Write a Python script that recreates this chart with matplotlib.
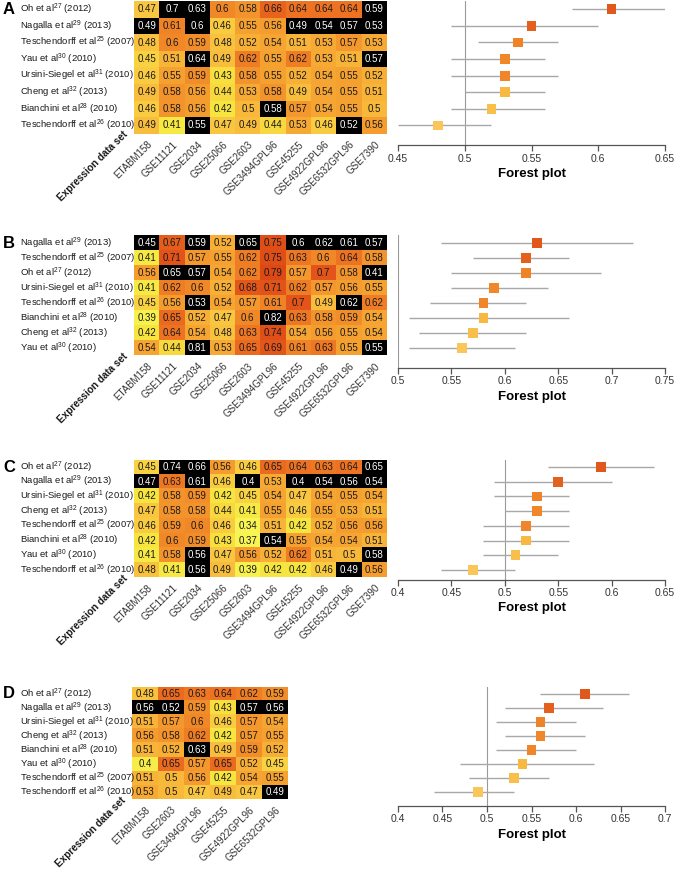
import numpy as np
import matplotlib
matplotlib.use("Agg")
import matplotlib.pyplot as plt
from matplotlib.colors import LinearSegmentedColormap, to_rgba

plt.rcParams['font.family'] = ['Liberation Sans', 'DejaVu Sans']
plt.rcParams['mathtext.fontset'] = 'custom'
plt.rcParams['mathtext.rm'] = 'Liberation Sans'

W, H = 674, 871

# studies (signatures) and their reference labels
study_labels = {
    'Oh': r'Oh et al$^{27}$ (2012)',
    'Nagalla': r'Nagalla et al$^{29}$ (2013)',
    'Tesch07': r'Teschendorff et al$^{25}$ (2007)',
    'Yau': r'Yau et al$^{30}$ (2010)',
    'Ursini': r'Ursini-Siegel et al$^{31}$ (2010)',
    'Cheng': r'Cheng et al$^{32}$ (2013)',
    'Bianchini': r'Bianchini et al$^{28}$ (2010)',
    'Tesch10': r'Teschendorff et al$^{26}$ (2010)',
}

datasets_full = ['ETABM158', 'GSE11121', 'GSE2034', 'GSE25066', 'GSE2603',
                 'GSE3494GPL96', 'GSE45255', 'GSE4922GPL96', 'GSE6532GPL96', 'GSE7390']
datasets_d = ['ETABM158', 'GSE2603', 'GSE3494GPL96', 'GSE45255', 'GSE4922GPL96', 'GSE6532GPL96']

# ---- panel A ----
rows_a = ['Oh', 'Nagalla', 'Tesch07', 'Yau', 'Ursini', 'Cheng', 'Bianchini', 'Tesch10']
vals_a = [
    [0.47, 0.7, 0.63, 0.6, 0.58, 0.66, 0.64, 0.64, 0.64, 0.59],
    [0.49, 0.61, 0.6, 0.46, 0.55, 0.56, 0.49, 0.54, 0.57, 0.53],
    [0.48, 0.6, 0.59, 0.48, 0.52, 0.54, 0.51, 0.53, 0.57, 0.53],
    [0.45, 0.51, 0.64, 0.49, 0.62, 0.55, 0.62, 0.53, 0.51, 0.57],
    [0.46, 0.55, 0.59, 0.43, 0.58, 0.55, 0.52, 0.54, 0.55, 0.52],
    [0.49, 0.58, 0.56, 0.44, 0.53, 0.58, 0.49, 0.54, 0.55, 0.51],
    [0.46, 0.58, 0.56, 0.42, 0.5, 0.58, 0.57, 0.54, 0.55, 0.5],
    [0.49, 0.41, 0.55, 0.47, 0.49, 0.44, 0.53, 0.46, 0.52, 0.56],
]
fp_mean_a = [0.61, 0.55, 0.54, 0.53, 0.53, 0.53, 0.52, 0.48]
fp_lo_a = [0.58, 0.49, 0.51, 0.49, 0.49, 0.50, 0.49, 0.45]
fp_hi_a = [0.65, 0.60, 0.57, 0.56, 0.57, 0.56, 0.56, 0.52]
train_a = [('Oh', 'GSE11121'), ('Oh', 'GSE2034'), ('Oh', 'GSE7390'),
           ('Nagalla', 'ETABM158'), ('Nagalla', 'GSE2034'), ('Nagalla', 'GSE45255'),
           ('Nagalla', 'GSE4922GPL96'), ('Nagalla', 'GSE6532GPL96'), ('Nagalla', 'GSE7390'),
           ('Yau', 'GSE2034'), ('Yau', 'GSE7390'), ('Bianchini', 'GSE3494GPL96'),
           ('Tesch10', 'GSE2034'), ('Tesch10', 'GSE6532GPL96')]

# ---- panel B ----
rows_b = ['Nagalla', 'Tesch07', 'Oh', 'Ursini', 'Tesch10', 'Bianchini', 'Cheng', 'Yau']
vals_b = [
    [0.45, 0.67, 0.59, 0.52, 0.65, 0.75, 0.6, 0.62, 0.61, 0.57],
    [0.41, 0.71, 0.57, 0.55, 0.62, 0.75, 0.63, 0.6, 0.64, 0.58],
    [0.56, 0.65, 0.57, 0.54, 0.62, 0.79, 0.57, 0.7, 0.58, 0.41],
    [0.41, 0.62, 0.6, 0.52, 0.68, 0.71, 0.62, 0.57, 0.56, 0.55],
    [0.45, 0.56, 0.53, 0.54, 0.57, 0.61, 0.7, 0.49, 0.62, 0.62],
    [0.39, 0.65, 0.52, 0.47, 0.6, 0.82, 0.63, 0.58, 0.59, 0.54],
    [0.42, 0.64, 0.54, 0.48, 0.63, 0.74, 0.54, 0.56, 0.55, 0.54],
    [0.54, 0.44, 0.81, 0.53, 0.65, 0.69, 0.61, 0.63, 0.55, 0.55],
]
fp_mean_b = [0.63, 0.62, 0.62, 0.59, 0.58, 0.58, 0.57, 0.56]
fp_lo_b = [0.54, 0.57, 0.55, 0.55, 0.53, 0.51, 0.52, 0.51]
fp_hi_b = [0.72, 0.66, 0.69, 0.64, 0.62, 0.66, 0.62, 0.61]
train_b = [('Nagalla', 'ETABM158'), ('Nagalla', 'GSE2034'), ('Nagalla', 'GSE2603'),
           ('Nagalla', 'GSE45255'), ('Nagalla', 'GSE4922GPL96'), ('Nagalla', 'GSE6532GPL96'),
           ('Nagalla', 'GSE7390'), ('Oh', 'GSE11121'), ('Oh', 'GSE2034'), ('Oh', 'GSE7390'),
           ('Tesch10', 'GSE2034'), ('Tesch10', 'GSE6532GPL96'), ('Bianchini', 'GSE3494GPL96'),
           ('Yau', 'GSE2034'), ('Yau', 'GSE7390')]

# ---- panel C ----
rows_c = ['Oh', 'Nagalla', 'Ursini', 'Cheng', 'Tesch07', 'Bianchini', 'Yau', 'Tesch10']
vals_c = [
    [0.45, 0.74, 0.66, 0.56, 0.46, 0.65, 0.64, 0.63, 0.64, 0.65],
    [0.47, 0.63, 0.61, 0.46, 0.4, 0.53, 0.4, 0.54, 0.56, 0.54],
    [0.42, 0.58, 0.59, 0.42, 0.45, 0.54, 0.47, 0.54, 0.55, 0.54],
    [0.47, 0.58, 0.58, 0.44, 0.41, 0.55, 0.46, 0.55, 0.53, 0.51],
    [0.46, 0.59, 0.6, 0.46, 0.34, 0.51, 0.42, 0.52, 0.56, 0.56],
    [0.42, 0.6, 0.59, 0.43, 0.37, 0.54, 0.55, 0.54, 0.54, 0.51],
    [0.41, 0.58, 0.56, 0.47, 0.56, 0.52, 0.62, 0.51, 0.5, 0.58],
    [0.48, 0.41, 0.56, 0.49, 0.39, 0.42, 0.42, 0.46, 0.49, 0.56],
]
fp_mean_c = [0.59, 0.55, 0.53, 0.53, 0.52, 0.52, 0.51, 0.47]
fp_lo_c = [0.54, 0.49, 0.49, 0.50, 0.48, 0.48, 0.48, 0.44]
fp_hi_c = [0.64, 0.60, 0.56, 0.56, 0.56, 0.56, 0.55, 0.51]
train_c = [('Oh', 'GSE11121'), ('Oh', 'GSE2034'), ('Oh', 'GSE7390'),
           ('Nagalla', 'ETABM158'), ('Nagalla', 'GSE2034'), ('Nagalla', 'GSE2603'),
           ('Nagalla', 'GSE45255'), ('Nagalla', 'GSE4922GPL96'), ('Nagalla', 'GSE6532GPL96'),
           ('Nagalla', 'GSE7390'), ('Bianchini', 'GSE3494GPL96'), ('Yau', 'GSE2034'),
           ('Yau', 'GSE7390'), ('Tesch10', 'GSE2034'), ('Tesch10', 'GSE6532GPL96')]

# ---- panel D ----
rows_d = ['Oh', 'Nagalla', 'Ursini', 'Cheng', 'Bianchini', 'Yau', 'Tesch07', 'Tesch10']
vals_d = [
    [0.48, 0.65, 0.63, 0.64, 0.62, 0.59],
    [0.56, 0.52, 0.59, 0.43, 0.57, 0.56],
    [0.51, 0.57, 0.6, 0.46, 0.57, 0.54],
    [0.56, 0.58, 0.62, 0.42, 0.57, 0.55],
    [0.51, 0.52, 0.63, 0.49, 0.59, 0.52],
    [0.4, 0.65, 0.57, 0.65, 0.52, 0.45],
    [0.51, 0.5, 0.56, 0.42, 0.54, 0.55],
    [0.53, 0.5, 0.47, 0.49, 0.47, 0.49],
]
fp_mean_d = [0.61, 0.57, 0.56, 0.56, 0.55, 0.54, 0.53, 0.49]
fp_lo_d = [0.56, 0.52, 0.51, 0.52, 0.51, 0.47, 0.48, 0.44]
fp_hi_d = [0.66, 0.63, 0.60, 0.61, 0.60, 0.62, 0.57, 0.53]
train_d = [('Nagalla', 'ETABM158'), ('Nagalla', 'GSE2603'), ('Nagalla', 'GSE4922GPL96'),
           ('Nagalla', 'GSE6532GPL96'), ('Bianchini', 'GSE3494GPL96'), ('Tesch10', 'GSE6532GPL96')]

forest_ticks_a = [0.45, 0.5, 0.55, 0.6, 0.65]
forest_ticks_b = [0.5, 0.55, 0.6, 0.65, 0.7, 0.75]
forest_ticks_c = [0.4, 0.45, 0.5, 0.55, 0.6, 0.65]
forest_ticks_d = [0.4, 0.45, 0.5, 0.55, 0.6, 0.65, 0.7]

# colours
heat_cmap = LinearSegmentedColormap.from_list('heat', [
    (0.0, '#f8f552'), (0.1, '#f7e43e'), (0.19, '#f9cb42'), (0.29, '#f8b83a'),
    (0.43, '#f59c2e'), (0.52, '#f28a28'), (0.62, '#ed7222'), (0.71, '#e4581c'),
    (1.0, '#dc4814')])
VMIN, VMAX = 0.38, 0.80
rank_colors = ['#e0581b', '#e3601d', '#ef8328', '#f0882a', '#f0852a', '#f8b943', '#f9bf4b', '#fac659']

fig = plt.figure(figsize=(W / 100, H / 100), dpi=100)


def px_axes(x0, y0, x1, y1):
    return fig.add_axes([x0 / W, 1 - y1 / H, (x1 - x0) / W, (y1 - y0) / H])


def draw_panel(letter, rows, vals, datasets, train, fp_mean, fp_lo, fp_hi, ticks,
               first_y, row_h, left_x, col_w, axis_gap):
    vals = np.array(vals)
    nr, nc = vals.shape
    rgba = heat_cmap(np.clip((vals - VMIN) / (VMAX - VMIN), 0, 1))
    is_train = np.zeros_like(vals, dtype=bool)
    for s, d in train:
        if s in rows and d in datasets:
            is_train[rows.index(s), datasets.index(d)] = True
    rgba[is_train] = to_rgba('black')

    top = first_y - row_h / 2
    bottom = top + nr * row_h
    ax = px_axes(left_x, top, left_x + nc * col_w, bottom)
    ax.imshow(rgba, aspect='auto', interpolation='nearest')
    for i in range(nr):
        for j in range(nc):
            ax.text(j, i, f"{vals[i, j]:g}", ha='center', va='center', fontsize=7,
                    color='white' if is_train[i, j] else '#1a1a1a')
    # row labels, left aligned
    for i, r in enumerate(rows):
        fig.text(20 / W, 1 - (first_y + i * row_h) / H, study_labels[r], fontsize=6.8,
                 color='#1a1a1a', ha='left', va='center')
    ax.set_yticks([])
    ax.set_xticks(range(nc))
    ax.set_xticklabels(datasets, rotation=45, ha='right', va='top', rotation_mode='anchor',
                       fontsize=7, color='#333333')
    ax.tick_params(length=0)
    ax.tick_params(axis='x', pad=4)
    for sp in ax.spines.values():
        sp.set_visible(False)
    ax.text(-0.95, nr - 0.5 - 0.3, 'Expression data set', rotation=45, ha='right', va='top',
            rotation_mode='anchor', fontsize=7.2, fontweight='bold', color='#1a1a1a')
    fig.text(3 / W, 1 - first_y / H, letter, fontsize=12, fontweight='bold', va='center')

    # forest plot
    axis_y = first_y + (nr - 1) * row_h + axis_gap
    fa = px_axes(398, top, 665, axis_y)
    ypos = np.arange(nr)
    fa.axvline(0.5, color='#9a9a9a', lw=0.8, zorder=1)
    fa.hlines(ypos, fp_lo, fp_hi, color='#a8a8a8', lw=1.0, zorder=2)
    order = np.argsort(-np.array(fp_mean), kind='stable')
    cols = [None] * nr
    for rank, idx in enumerate(order):
        cols[idx] = rank_colors[rank]
    fa.scatter(fp_mean, ypos, marker='s', s=48, c=cols, zorder=3, linewidths=0)
    fa.set_xlim(ticks[0], ticks[-1])
    fa.set_ylim(nr - 1 + axis_gap / row_h, -0.5)
    fa.set_xticks(ticks)
    fa.set_xticklabels([f"{t:g}" for t in ticks], fontsize=7.5, color='#333333')
    fa.set_yticks([])
    for s in ['top', 'right', 'left']:
        fa.spines[s].set_visible(False)
    fa.spines['bottom'].set_color('#555555')
    fa.spines['bottom'].set_linewidth(0.9)
    fa.tick_params(axis='x', direction='out', length=4, width=0.9, color='#555555', pad=2)
    fa.set_xlabel('Forest plot', fontsize=9.5, fontweight='bold', labelpad=3)


draw_panel('A', rows_a, vals_a, datasets_full, train_a, fp_mean_a, fp_lo_a, fp_hi_a,
           forest_ticks_a, 9.3, 16.6, 134, 25.3, 20)
draw_panel('B', rows_b, vals_b, datasets_full, train_b, fp_mean_b, fp_lo_b, fp_hi_b,
           forest_ticks_b, 243, 15.0, 134, 25.3, 20)
draw_panel('C', rows_c, vals_c, datasets_full, train_c, fp_mean_c, fp_lo_c, fp_hi_c,
           forest_ticks_c, 467, 14.7, 134, 25.3, 10)
draw_panel('D', rows_d, vals_d, datasets_d, train_d, fp_mean_d, fp_lo_d, fp_hi_d,
           forest_ticks_d, 694, 14.0, 132, 26.0, 14)

fig.savefig('out.png', dpi=100)
